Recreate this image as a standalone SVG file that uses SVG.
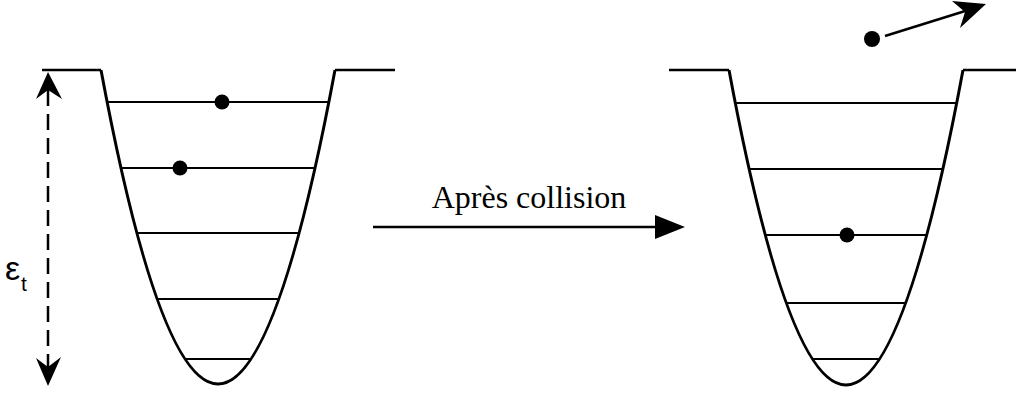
<svg xmlns="http://www.w3.org/2000/svg" width="1016" height="394" viewBox="0 0 1016 394">
<style>
.well{fill:none;stroke:#000;stroke-width:3;stroke-linejoin:round}
.plat{fill:none;stroke:#000;stroke-width:2.5}
.lvl{stroke:#000;stroke-width:2}
.dot{fill:#000}
.conn{fill:none;stroke:#000;stroke-width:2.5}
.head{fill:#000;stroke:none}
.lbl{font-family:"Liberation Serif","Times New Roman",serif;font-size:32px;fill:#000}
.eps{font-family:"Liberation Sans",Arial,sans-serif;fill:#000}
</style>
<rect width="1016" height="394" fill="#fff"/>
<g id="well-before">
<path class="plat" d="M42,70 H101 M335,70 H395"/>
<path class="well" d="M101,70 Q218,698 335,70"/>
<line class="lvl" x1="107" y1="102" x2="329" y2="102"/>
<line class="lvl" x1="121" y1="168" x2="315" y2="168"/>
<line class="lvl" x1="137" y1="233" x2="299" y2="233"/>
<line class="lvl" x1="157" y1="299" x2="279" y2="299"/>
<line class="lvl" x1="185" y1="359" x2="251" y2="359"/>
<circle class="dot" cx="222" cy="102" r="7.5"/>
<circle class="dot" cx="180" cy="168" r="7.5"/>
</g>
<g id="well-after">
<path class="plat" d="M669,70 H729 M963,70 H1016"/>
<path class="well" d="M729,70 Q846,700 963,70"/>
<line class="lvl" x1="735" y1="103" x2="957" y2="103"/>
<line class="lvl" x1="749" y1="169" x2="943" y2="169"/>
<line class="lvl" x1="765" y1="235" x2="927" y2="235"/>
<line class="lvl" x1="786" y1="303" x2="906" y2="303"/>
<line class="lvl" x1="812" y1="359" x2="880" y2="359"/>
<circle class="dot" cx="847" cy="235" r="7.5"/>
<circle class="dot" cx="872" cy="39" r="8"/>
</g>
<g id="label-eps">
<text class="eps" x="5" y="280" font-size="34">ε</text>
<text class="eps" x="21" y="291" font-size="21">t</text>
</g>
<g id="connectors">
<line x1="48" y1="90" x2="48" y2="370" stroke="#000" stroke-width="2.5" stroke-dasharray="16 8"/>
<polygon class="head" points="48,72 62,99 48,90 36,99"/>
<polygon class="head" points="48,386 61,357 48,367 36,358"/>
<line class="conn" x1="373" y1="227" x2="660" y2="227"/>
<polygon class="head" points="685,227 655,215 655,239"/>
<line class="conn" x1="885" y1="36" x2="978" y2="7"/>
<polygon class="head" points="986,4 952,1 965,12 960,28"/>
<text class="lbl" x="529" y="208" text-anchor="middle">Après collision</text>
</g>
</svg>
